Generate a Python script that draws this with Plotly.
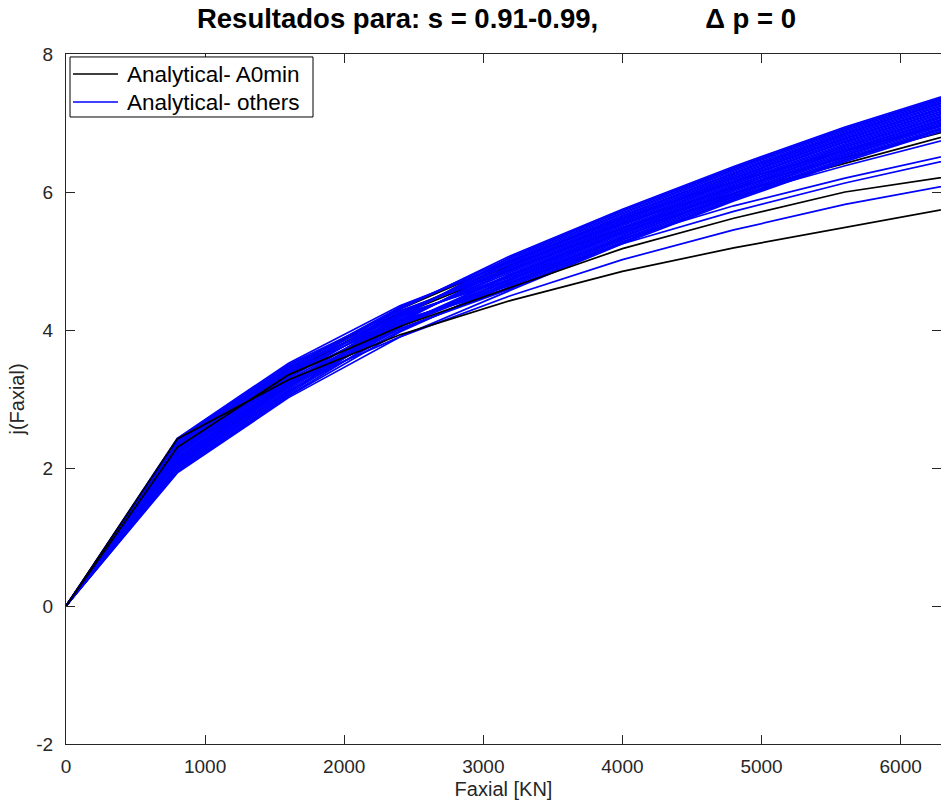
import plotly.graph_objects as go

# Axial force samples [KN]
faxial = [0, 800, 1600, 2400, 3200, 4000, 4800, 5600, 6400]

# j(Faxial) for the A0min cases (black)
a0min_low = [
    [0, 2.42, 3.28, 3.93, 4.43, 4.85, 5.19, 5.49, 5.78],
    [0, 2.30, 3.35, 4.05, 4.62, 5.18, 5.62, 6.00, 6.24],
]
a0min_band = [
    [0, 2.25, 3.40, 4.22, 4.88, 5.48, 5.98, 6.42, 6.85],
    [0, 2.20, 3.38, 4.25, 4.95, 5.55, 6.06, 6.50, 6.92],
    [0, 2.35, 3.45, 4.30, 5.00, 5.62, 6.15, 6.60, 7.02],
]

# j(Faxial) for the remaining cases (blue)
others_band = [
    [0, 1.93, 3.02, 3.90, 4.58, 5.25, 5.87, 6.44, 6.95],
    [0, 1.95, 3.04, 3.97, 4.70, 5.37, 5.99, 6.56, 7.07],
    [0, 1.96, 3.05, 4.04, 4.82, 5.49, 6.11, 6.68, 7.19],
    [0, 1.98, 3.07, 4.11, 4.94, 5.61, 6.23, 6.80, 7.31],
    [0, 2.00, 3.09, 4.18, 5.06, 5.73, 6.35, 6.92, 7.43],
    [0, 2.02, 3.11, 3.99, 4.67, 5.34, 5.96, 6.53, 7.04],
    [0, 2.03, 3.12, 4.06, 4.79, 5.46, 6.08, 6.65, 7.16],
    [0, 2.05, 3.14, 4.13, 4.91, 5.58, 6.20, 6.77, 7.28],
    [0, 2.07, 3.16, 4.20, 5.03, 5.70, 6.32, 6.89, 7.40],
    [0, 2.09, 3.18, 4.01, 4.63, 5.30, 5.92, 6.49, 7.00],
    [0, 2.10, 3.19, 4.07, 4.75, 5.42, 6.04, 6.61, 7.12],
    [0, 2.12, 3.21, 4.14, 4.87, 5.54, 6.16, 6.73, 7.24],
    [0, 2.14, 3.23, 4.21, 4.99, 5.66, 6.28, 6.85, 7.36],
    [0, 2.15, 3.24, 4.02, 4.60, 5.27, 5.89, 6.46, 6.97],
    [0, 2.17, 3.26, 4.09, 4.72, 5.39, 6.01, 6.58, 7.09],
    [0, 2.19, 3.28, 4.16, 4.84, 5.51, 6.13, 6.70, 7.21],
    [0, 2.21, 3.30, 4.23, 4.96, 5.63, 6.25, 6.82, 7.33],
    [0, 2.22, 3.31, 4.30, 5.08, 5.75, 6.37, 6.94, 7.45],
    [0, 2.24, 3.33, 4.11, 4.68, 5.35, 5.97, 6.54, 7.05],
    [0, 2.26, 3.35, 4.18, 4.80, 5.47, 6.09, 6.66, 7.17],
    [0, 2.27, 3.36, 4.24, 4.92, 5.59, 6.21, 6.78, 7.29],
    [0, 2.29, 3.38, 4.32, 5.05, 5.72, 6.34, 6.91, 7.42],
    [0, 2.31, 3.40, 4.13, 4.65, 5.32, 5.94, 6.51, 7.02],
    [0, 2.33, 3.42, 4.20, 4.77, 5.44, 6.06, 6.63, 7.14],
    [0, 2.34, 3.43, 4.26, 4.89, 5.56, 6.18, 6.75, 7.26],
    [0, 2.36, 3.45, 4.33, 5.01, 5.68, 6.30, 6.87, 7.38],
    [0, 2.38, 3.47, 4.14, 4.61, 5.28, 5.90, 6.47, 6.98],
    [0, 2.40, 3.49, 4.22, 4.74, 5.41, 6.03, 6.60, 7.11],
    [0, 2.41, 3.50, 4.28, 4.86, 5.53, 6.15, 6.72, 7.23],
    [0, 2.43, 3.52, 4.35, 4.98, 5.65, 6.27, 6.84, 7.35],
]
others_low = [
    [0, 2.25, 3.20, 3.90, 4.50, 5.02, 5.45, 5.82, 6.12],
    [0, 2.15, 3.25, 4.05, 4.70, 5.25, 5.72, 6.13, 6.49],
    [0, 2.10, 3.22, 4.06, 4.74, 5.32, 5.80, 6.20, 6.56],
    [0, 2.05, 3.20, 4.08, 4.80, 5.42, 5.93, 6.38, 6.80],
]

legend_labels = ["Analytical- A0min", "Analytical- others"]
x_ticks = [0, 1000, 2000, 3000, 4000, 5000, 6000]
y_ticks = [-2, 0, 2, 4, 6, 8]

BLACK = "#000000"
BLUE = "#0000ff"
AXIS = "#262626"
FONT = "Liberation Sans, Arial, sans-serif"

fig = go.Figure()


def add_curve(values, color):
    fig.add_trace(go.Scatter(
        x=faxial, y=values, mode="lines",
        line=dict(color=color, width=1.7),
        showlegend=False, hoverinfo="skip",
    ))


# curves partly covered by the blue bundle
for vals in a0min_band:
    add_curve(vals, BLACK)
for vals in others_band:
    add_curve(vals, BLUE)
for vals in others_low:
    add_curve(vals, BLUE)
for vals in a0min_low:
    add_curve(vals, BLACK)

# boxed legend in the upper-left corner of the axes (paper coordinates)
box = dict(x0=0.0046, x1=0.2823, y0=0.9087, y1=0.9957)
rows_y = [0.9710, 0.9304]
fig.add_shape(type="rect", xref="paper", yref="paper", layer="above",
              line=dict(color="#000000", width=1), fillcolor="white", **box)
for color, yy, label in zip([BLACK, BLUE], rows_y, legend_labels):
    fig.add_shape(type="line", xref="paper", yref="paper", layer="above",
                  x0=0.008, x1=0.0594, y0=yy, y1=yy,
                  line=dict(color=color, width=1.6))
    fig.add_annotation(xref="paper", yref="paper", x=0.0674, y=yy,
                       xanchor="left", yanchor="middle", showarrow=False,
                       text=label, font=dict(family=FONT, size=22.5, color="#000000"))

nb = "\u00a0" * 14
fig.update_layout(
    width=941, height=807,
    margin=dict(l=66, r=0, t=54, b=63),
    paper_bgcolor="white", plot_bgcolor="white",
    font=dict(family=FONT, size=19, color=AXIS),
    title=dict(
        text="<b>Resultados para: s = 0.91-0.99,</b>" + nb + "<b>\u0394 p = 0</b>",
        x=0.492, xref="paper", xanchor="center",
        y=1 - 18 / 807, yref="container", yanchor="middle",
        font=dict(family=FONT, size=27.5, color="#000000"),
    ),
    showlegend=False,
)

fig.update_xaxes(
    range=[0, 6290], tickvals=x_ticks, ticktext=[str(v) for v in x_ticks],
    showgrid=False, zeroline=False,
    showline=True, linecolor=AXIS, linewidth=1, mirror="ticks",
    ticks="inside", ticklen=9, tickcolor=AXIS,
    tickfont=dict(family=FONT, size=19, color=AXIS),
    ticklabelstandoff=5,
    title=dict(text="Faxial [KN]", standoff=6,
               font=dict(family=FONT, size=20, color=AXIS)),
)
fig.update_yaxes(
    range=[-2, 8], tickvals=y_ticks, ticktext=[str(v) for v in y_ticks],
    showgrid=False, zeroline=False,
    showline=True, linecolor=AXIS, linewidth=1, mirror="ticks",
    ticks="inside", ticklen=9, tickcolor=AXIS,
    tickfont=dict(family=FONT, size=19, color=AXIS),
    ticklabelstandoff=8,
    title=dict(text="j(Faxial)", standoff=6,
               font=dict(family=FONT, size=20, color=AXIS)),
)

fig.write_html("out.html")
